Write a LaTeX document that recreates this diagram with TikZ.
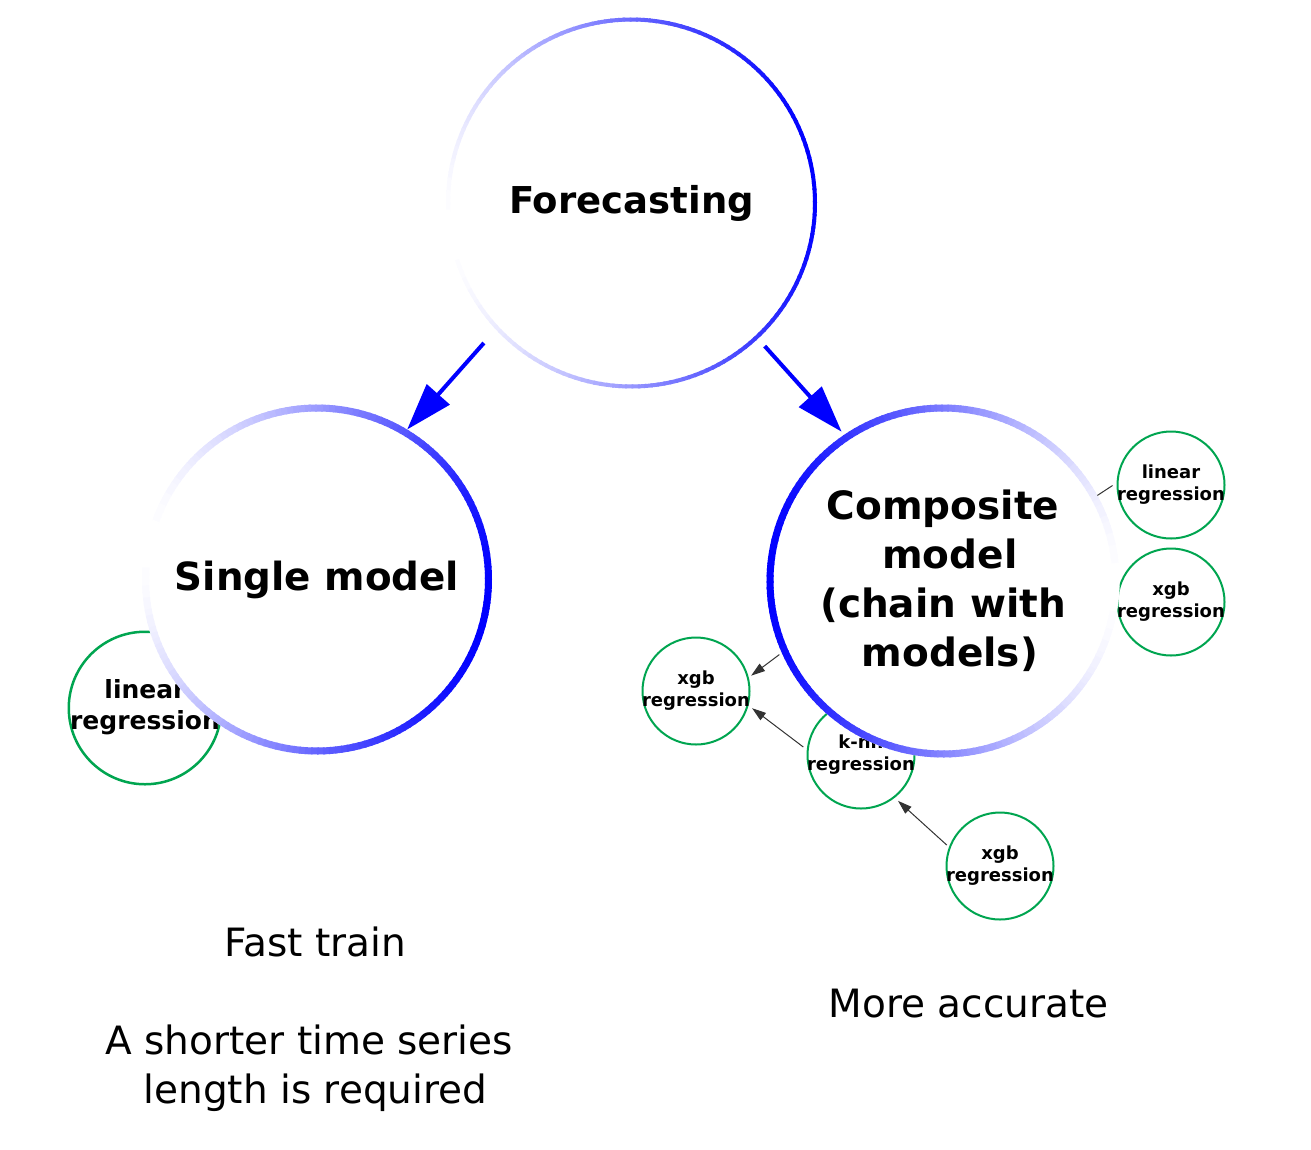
\documentclass[tikz,border=0pt]{standalone}
\usepackage{fontspec}
\setmainfont{DejaVu Sans}
\usetikzlibrary{arrows.meta}
\definecolor{grn}{RGB}{0,165,80}
\definecolor{edgegray}{RGB}{51,51,51}
% gradient ring: node, centre-line radius, width, angle of darkest point
\newcommand\gradring[4]{%
  \foreach \a in {0,2,...,358}{%
    \pgfmathtruncatemacro\p{round(50+50*cos(\a+1-#4))}%
    \draw[line width=#3, color=blue!\p!white] (#1.center) ++(\a:#2) arc[start angle=\a, end angle=\a+2.6, radius=#2];
  }}
\newcommand\twolines[2]{\makebox[0pt]{\begin{tabular}{@{}c@{}}#1\\#2\end{tabular}}}
\begin{document}
\begin{tikzpicture}[x=1pt,y=1pt,
  bignode/.style={circle, fill=white, inner sep=0pt, outer sep=0pt, align=center},
  smallnode/.style={circle, draw=grn, line width=2pt, fill=white, inner sep=0pt, outer sep=0pt,
    minimum size=107pt, font=\bfseries\fontsize{18}{22.5}\selectfont},
  conn/.style={draw=edgegray, line width=1pt, -{Triangle[length=14pt,width=9pt]}},
  plainedge/.style={draw=edgegray, line width=1pt},
  bigarr/.style={draw=blue, line width=4pt, -{Triangle[length=47pt,width=30pt]}},
  plaintext/.style={inner sep=0pt, align=center, font=\fontsize{39}{49}\selectfont}]
\useasboundingbox (0,0) rectangle (1311,-1149);

% small model nodes
\node[smallnode, minimum size=152.5pt, line width=2.5pt, font=\bfseries\fontsize{25}{31}\selectfont] (linL) at (145,-708) {\twolines{linear}{regression}};
\node[smallnode] (knn)  at (861,-755)  {\twolines{k-nn}{regression}};
\node[smallnode] (xgbL) at (696,-691)  {\twolines{xgb}{regression}};
\node[smallnode] (xgbB) at (1000,-866) {\twolines{xgb}{regression}};
\node[smallnode] (linR) at (1171,-485) {\twolines{linear}{regression}};
\node[smallnode] (xgbR) at (1171,-602) {\twolines{xgb}{regression}};

% big nodes
\node[bignode, minimum size=371pt, font=\bfseries\fontsize{37}{47}\selectfont] (F) at (631.5,-203) {Forecasting};
\gradring{F}{183.5pt}{4pt}{10}
\node[bignode, minimum size=350pt, font=\bfseries\fontsize{38.8}{49}\selectfont] (S) at (317,-579.5) {Single model};
\gradring{S}{171.5pt}{7pt}{-12}
\node[bignode, minimum size=353pt, font=\bfseries\fontsize{39}{49}\selectfont] (C) at (943,-581) {Composite\\\mbox{}\ model\\(chain with\\\mbox{}\ models)};
\gradring{C}{173pt}{7pt}{178}

% connectors
\draw[bigarr, shorten <=18pt] (F.223.5) -- (S.59);
\draw[bigarr, shorten <=10pt, shorten >=4pt] (F.313.4) -- (C.124.8);
\draw[conn, shorten <=5.5pt, shorten >=5.5pt] (knn.175) -- (xgbL.-15);
\draw[conn, shorten <=4pt, shorten >=5.5pt] (xgbB.160) -- (knn.-52.5);
\draw[conn, shorten <=3pt, shorten >=4pt] (C.204.7) -- (xgbL.14);
\draw[plainedge, shorten >=6pt] (C.29) -- (linR.177);

% captions
\node[plaintext, anchor=base] (fast) at (315.5,-1103) {Fast train\\\mbox{}\\A shorter time series\hphantom{\ }\\length is required};
\node[plaintext, anchor=base] (acc) at (968.5,-1017) {More accurate};
\end{tikzpicture}
\end{document}
